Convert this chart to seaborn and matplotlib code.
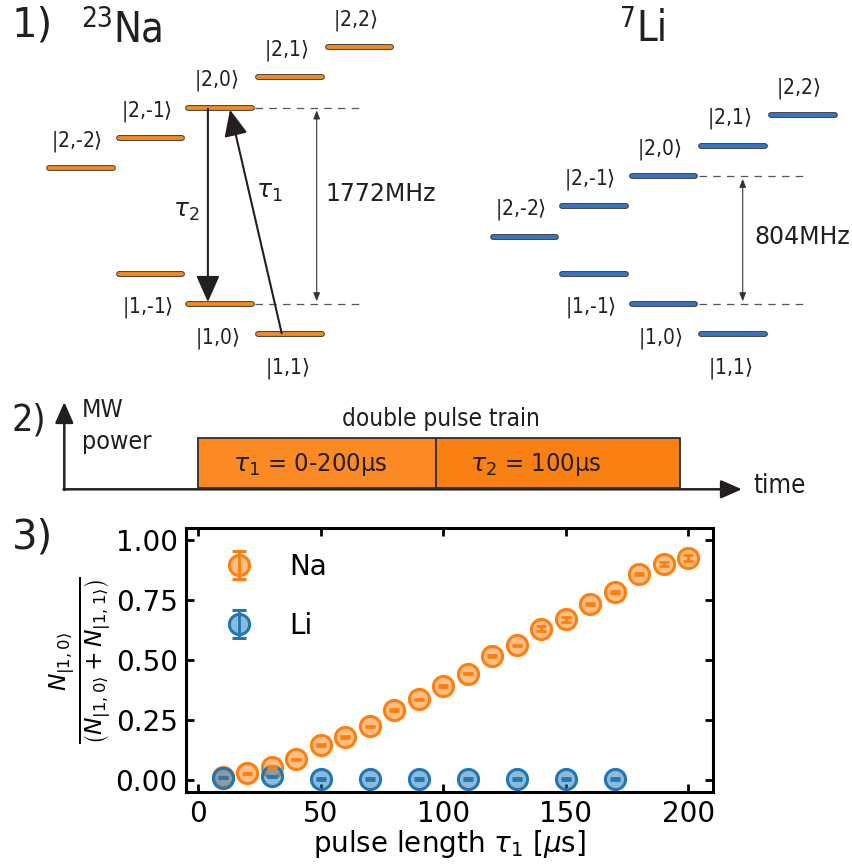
import numpy as np
import pandas as pd
import matplotlib
matplotlib.use("Agg")
import matplotlib.pyplot as plt
import matplotlib.patheffects as pe
from matplotlib.patches import FancyArrowPatch, Rectangle
import seaborn as sns

# ---------------- data ----------------
pulse_na = [10, 20, 30, 40, 50, 60, 70, 80, 90, 100, 110, 120, 130, 140, 150, 160, 170, 180, 190, 200]
frac_na = [0.012, 0.028, 0.055, 0.086, 0.146, 0.180, 0.224, 0.291, 0.336, 0.391,
           0.443, 0.517, 0.561, 0.631, 0.669, 0.735, 0.784, 0.859, 0.900, 0.926]
err_na = [0.003, 0.003, 0.003, 0.003, 0.004, 0.003, 0.003, 0.003, 0.003, 0.003,
          0.003, 0.003, 0.003, 0.010, 0.009, 0.004, 0.003, 0.003, 0.010, 0.012]
pulse_li = [10, 30, 50, 70, 90, 110, 130, 150, 170]
frac_li = [0.010, 0.015, 0.005, 0.005, 0.005, 0.005, 0.005, 0.005, 0.005]
err_li = [0.003, 0.003, 0.003, 0.003, 0.003, 0.003, 0.003, 0.003, 0.003]
species = ["Na", "Li"]
xticks = [0, 50, 100, 150, 200]
yticks = [0.00, 0.25, 0.50, 0.75, 1.00]

upper_labels = ["|2,-2", "|2,-1", "|2,0", "|2,1", "|2,2"]
lower_labels = ["|1,-1", "|1,0", "|1,1"]
splitting = {"Na": "1772MHz", "Li": "804MHz"}
mass_number = {"Na": "23", "Li": "7"}
pulse_texts = [r"$\tau_1$ = 0-200μs", r"$\tau_2$ = 100μs"]

# ---------------- style ----------------
sns.set_style("ticks")
plt.rcParams["font.family"] = ["DejaVu Sans"]
plt.rcParams["mathtext.fontset"] = "dejavusans"
plt.rcParams["text.color"] = "black"
plt.rcParams["axes.labelcolor"] = "black"
plt.rcParams["xtick.color"] = "black"
plt.rcParams["ytick.color"] = "black"

NA_C = "#ff7f0e"
LI_C = "#1f77b4"
LVL_NA = "#f7891c"
LVL_LI = "#3675c5"
DARK = "#231f20"

fig = plt.figure(figsize=(8.52, 8.66), dpi=100)

# overlay axes in pixel coordinates for diagram panels
ov = fig.add_axes([0, 0, 1, 1])
ov.set_xlim(0, 852)
ov.set_ylim(866, 0)
ov.axis("off")

# ---------- panel 1: level diagrams ----------
col_w = 66.6
col_step = 69.6
lower_y0 = 273.7
lvl_step = 30.3
layout = {
    "Na": dict(x0=47.7, up0=168.3, color=LVL_NA, iso_x=81, split_x=325, arrow_x=316.7),
    "Li": dict(x0=491.0, up0=236.7, color=LVL_LI, iso_x=620, split_x=754, arrow_x=742.7),
}
for sp in species:
    L = layout[sp]
    edge = [pe.Stroke(linewidth=4.2, foreground="#3a3a3a"), pe.Normal()]
    def colx(c):
        return L["x0"] + c * col_step
    # upper manifold
    for c, lab in enumerate(upper_labels):
        y = L["up0"] - lvl_step * c
        ov.plot([colx(c) + 1.5, colx(c) + col_w - 1.5], [y, y], color=L["color"], lw=2.8,
                solid_capstyle="round", path_effects=edge, zorder=3)
        ov.text(colx(c) + col_w / 2 - 4, y - 27, lab + r"$\rangle$", fontsize=15,
                ha="center", va="center", color=DARK, fontstretch="condensed")
    # lower manifold (columns 1..3)
    for k, lab in enumerate(lower_labels):
        c = k + 1
        y = lower_y0 + lvl_step * k
        ov.plot([colx(c) + 1.5, colx(c) + col_w - 1.5], [y, y], color=L["color"], lw=2.8,
                solid_capstyle="round", path_effects=edge, zorder=3)
        ov.text(colx(c) + col_w / 2 - 3, lower_y0 + lvl_step * (k + 1) + 4, lab + r"$\rangle$",
                fontsize=15, ha="center", va="center", color=DARK, fontstretch="condensed")
    # dashed reference lines from |2,0> and middle lower level
    y_top = L["up0"] - lvl_step * 2
    y_bot = lower_y0 + lvl_step
    xs = colx(2) + col_w
    for yy in (y_top, y_bot):
        ov.plot([xs + 2, xs + 106], [yy, yy], color="#555555", lw=0.9, ls=(0, (6, 5)), zorder=2)
    ov.add_patch(FancyArrowPatch((L["arrow_x"], y_top), (L["arrow_x"], y_bot),
                                 arrowstyle="<|-|>,head_length=0.5,head_width=0.2",
                                 mutation_scale=10, lw=0.8, color="#333333", zorder=2))
    ov.text(L["split_x"], (y_top + y_bot) / 2 - 12 if sp == "Na" else (y_top + y_bot) / 2 - 3,
            splitting[sp], fontsize=17, ha="left", va="center", color=DARK)
    # isotope label: superscript mass number + element symbol
    t1 = ov.text(L["iso_x"], 19, mass_number[sp], fontsize=20, ha="left", va="center",
                 color=DARK, fontstretch="condensed")
    fig.canvas.draw()
    bb = t1.get_window_extent()
    x_end = ov.transData.inverted().transform((bb.x1, bb.y0))[0]
    ov.text(x_end + 0.5, 29, sp, fontsize=30, ha="left", va="center", color=DARK,
            fontstretch="condensed")

# transition arrows (Na)
NA = layout["Na"]
x20 = NA["x0"] + 2 * col_step
ov.add_patch(FancyArrowPatch((x20 + 21, NA["up0"] - 2 * lvl_step + 1), (x20 + 21, lower_y0 + lvl_step - 2),
                             arrowstyle="-|>,head_length=0.9,head_width=0.4", mutation_scale=18,
                             lw=1.5, color=DARK, zorder=4, shrinkA=0, shrinkB=0))
ov.add_patch(FancyArrowPatch((281.7, lower_y0 + 2 * lvl_step - 1), (230, NA["up0"] - 2 * lvl_step + 2),
                             arrowstyle="-|>,head_length=0.9,head_width=0.4", mutation_scale=18,
                             lw=1.5, color=DARK, zorder=4, shrinkA=0, shrinkB=0))
ov.text(186.7, 210.7, r"$\tau_2$", fontsize=18, ha="center", va="center", color=DARK)
ov.text(269, 191.7, r"$\tau_1$", fontsize=18, ha="center", va="center", color=DARK)

ov.text(12, 26, "1)", fontsize=29, ha="left", va="center", color=DARK)

# ---------- panel 2: pulse sequence ----------
ov.text(12, 421, "2)", fontsize=27, ha="left", va="center", color=DARK, fontstretch="condensed")
ov.add_patch(FancyArrowPatch((64.3, 490), (64.3, 402), arrowstyle="-|>,head_length=0.8,head_width=0.35",
                             mutation_scale=16, lw=1.8, color=DARK, shrinkA=0, shrinkB=0))
ov.add_patch(FancyArrowPatch((63.5, 489.3), (742, 489.3), arrowstyle="-|>,head_length=0.8,head_width=0.35",
                             mutation_scale=16, lw=1.8, color=DARK, shrinkA=0, shrinkB=0))
ov.text(81.5, 410, "MW", fontsize=18, ha="left", va="center", color=DARK, fontstretch="condensed")
ov.text(81.5, 442, "power", fontsize=18, ha="left", va="center", color=DARK, fontstretch="condensed")
ov.text(753, 486, "time", fontsize=18.5, ha="left", va="center", color=DARK, fontstretch="condensed")
ov.add_patch(Rectangle((197.7, 438.3), 238.0, 50.0, facecolor="#fb8a24", edgecolor="#2e2e2e", lw=1.3, zorder=3))
ov.add_patch(Rectangle((435.7, 438.3), 244.3, 50.0, facecolor="#f98012", edgecolor="#2e2e2e", lw=1.3, zorder=3))
ov.text(441, 419, "double pulse train", fontsize=17.5, ha="center", va="center", color=DARK,
        fontstretch="condensed")
ov.text(310.6, 465, pulse_texts[0], fontsize=18.3, ha="center", va="center", color=DARK,
        fontstretch="condensed", zorder=4)
ov.text(535.4, 465, pulse_texts[1], fontsize=18.3, ha="center", va="center", color=DARK,
        fontstretch="condensed", zorder=4)

# ---------- panel 3: data ----------
ov.text(12, 538, "3)", fontsize=29, ha="left", va="center", color=DARK)

ax = fig.add_axes([186 / 852, 1 - 792 / 866, (713 - 186) / 852, (792 - 528) / 866])
df = pd.concat([
    pd.DataFrame({"pulse": pulse_na, "frac": frac_na, "err": err_na, "species": "Na"}),
    pd.DataFrame({"pulse": pulse_li, "frac": frac_li, "err": err_li, "species": "Li"}),
], ignore_index=True)
pal = {"Na": NA_C, "Li": LI_C}

for sp in species:
    d = df[df.species == sp]
    sns.scatterplot(data=d, x="pulse", y="frac", color=pal[sp], s=210, linewidth=2.2,
                    edgecolor=pal[sp], legend=False, ax=ax, zorder=3)
    coll = ax.collections[-1]
    coll.set_facecolor(matplotlib.colors.to_rgba(pal[sp], 0.5))
    coll.set_edgecolor(pal[sp])
    ax.errorbar(d["pulse"], d["frac"], yerr=d["err"], fmt="none", ecolor=pal[sp],
                elinewidth=2, capsize=3.5, capthick=2, zorder=4)

# legend handles (errorbar style)
handles = []
for sp in species:
    h = ax.errorbar([np.nan], [np.nan], yerr=[np.nan], fmt="o", color=pal[sp], ms=14.5,
                    mfc=matplotlib.colors.to_rgba(pal[sp], 0.5), mec=pal[sp], mew=2.2,
                    elinewidth=2, capsize=5, capthick=2, label=sp)
    handles.append(h)
ax.legend(handles=handles, labels=species, loc="upper left", frameon=False, fontsize=20,
          labelspacing=1.1, handletextpad=0.8, borderaxespad=0.5)

ax.set_xlim(-5, 210)
ax.set_ylim(-0.05, 1.05)
ax.set_xticks(xticks)
ax.set_yticks(yticks)
ax.set_yticklabels([f"{v:.2f}" for v in yticks])
ax.tick_params(direction="in", length=6, width=2, labelsize=20, top=True, right=True, pad=6,
               colors="black")
for s in ax.spines.values():
    s.set_linewidth(2.2)
    s.set_color("black")
ax.set_xlabel(r"pulse length $\tau_1$ [$\mu$s]", fontsize=20, labelpad=0)
ax.set_ylabel(r"$\frac{N_{|1,0\rangle}}{\left(N_{|1,0\rangle}+N_{|1,1\rangle}\right)}$", fontsize=24, labelpad=2)

fig.savefig("out.png", dpi=100)
